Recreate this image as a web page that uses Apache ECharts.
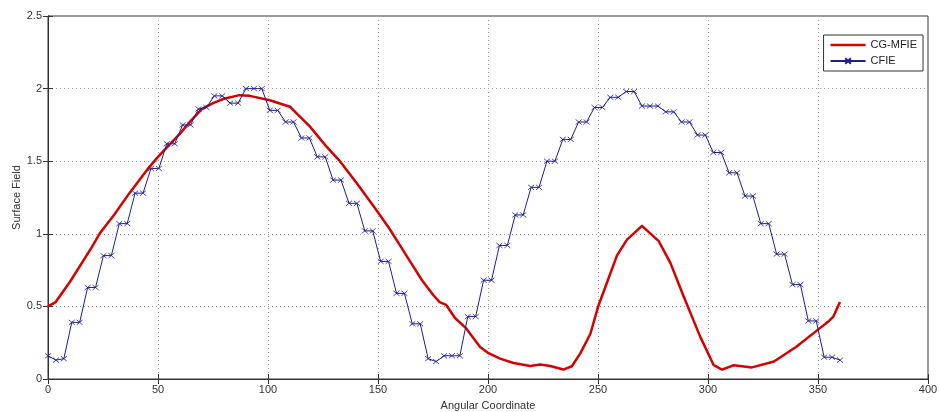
<!DOCTYPE html>
<html><head><meta charset="utf-8">
<script src="https://cdn.jsdelivr.net/npm/echarts@6/dist/echarts.min.js"></script>
<style>html,body{margin:0;padding:0;background:#fff}#c{width:939px;height:412px}</style>
</head><body><div id="c"></div>
<script>
// CG-MFIE (red curve)
const mfieX = [0,3.5,10,20,23.4,30,37,45,50,55,60,65,70,75,80,87,91.7,100.8,110,113,119,126.6,132.7,140.3,149.4,155,160,165,170,175,178,181,185,190,196.4,200,205.5,211.6,219.2,223.7,228.3,234.3,238.1,241.9,246.5,250.3,253,258.6,263.2,270,277.6,282.9,288.9,296.5,302.6,306.4,311.7,320,330,340,350,355,357,360];
const mfieY = [0.50,0.53,0.67,0.91,1.00,1.13,1.28,1.44,1.53,1.61,1.69,1.78,1.86,1.90,1.93,1.955,1.95,1.92,1.875,1.83,1.74,1.60,1.50,1.35,1.16,1.04,0.92,0.80,0.68,0.58,0.53,0.51,0.42,0.35,0.22,0.18,0.14,0.11,0.09,0.10,0.09,0.065,0.088,0.175,0.31,0.51,0.62,0.85,0.96,1.055,0.95,0.80,0.57,0.29,0.095,0.065,0.095,0.08,0.12,0.22,0.34,0.40,0.43,0.53];
// CFIE (blue with x markers), sampled every 3.6 degrees
const cfieStep = 3.6;
const cfieY = [0.16,0.13,0.14,0.39,0.39,0.63,0.63,0.85,0.85,1.07,
  1.07,1.28,1.28,1.45,1.45,1.62,1.62,1.75,1.75,1.86,
  1.87,1.95,1.95,1.90,1.90,2.00,2.00,2.00,1.85,1.85,
  1.77,1.77,1.66,1.66,1.53,1.53,1.37,1.37,1.21,1.21,
  1.02,1.02,0.81,0.81,0.59,0.59,0.38,0.38,0.14,0.12,
  0.16,0.16,0.16,0.43,0.43,0.68,0.68,0.92,0.92,1.13,
  1.13,1.32,1.32,1.50,1.50,1.65,1.65,1.77,1.77,1.87,
  1.87,1.94,1.94,1.98,1.98,1.88,1.88,1.88,1.84,1.84,
  1.77,1.77,1.68,1.68,1.56,1.56,1.42,1.42,1.26,1.26,
  1.07,1.07,0.86,0.86,0.65,0.65,0.40,0.40,0.15,0.15,0.13];
const xTicks = [0,50,100,150,200,250,300,350,400];
const yTicks = [0,0.5,1,1.5,2,2.5];

const mfie = mfieX.map((x,i)=>[x,mfieY[i]]);
const cfie = cfieY.map((y,i)=>[+(i*cfieStep).toFixed(1),y]);
const font = 'Liberation Sans, Arial, sans-serif';
const gridLine = {show:true,lineStyle:{color:'#a0a0a0',type:[1,3],width:1}};
const chart = echarts.init(document.getElementById('c'));
chart.setOption({
  animation:false,
  backgroundColor:'#fff',
  grid:{left:48,right:11,top:16,bottom:33,show:true,borderColor:'#333',borderWidth:1,
    containLabel:false,outerBoundsMode:'none'},
  xAxis:[{type:'value',min:xTicks[0],max:xTicks[xTicks.length-1],interval:50,
    name:'Angular Coordinate',nameLocation:'middle',nameGap:21,nameMoveOverlap:false,
    nameTextStyle:{fontFamily:font,fontSize:11,color:'#333'},
    axisLine:{lineStyle:{color:'#333'}},axisTick:{inside:true,length:5,lineStyle:{color:'#333'}},
    axisLabel:{fontFamily:font,fontSize:11,color:'#333',margin:5},
    splitLine:gridLine},
   {type:'value',position:'top',min:0,max:400,interval:50,axisLine:{show:true,lineStyle:{color:'#333'}},
    axisTick:{inside:true,length:5,lineStyle:{color:'#333'}},axisLabel:{show:false},splitLine:{show:false}}],
  yAxis:[{type:'value',min:yTicks[0],max:yTicks[yTicks.length-1],interval:0.5,
    name:'Surface Field',nameLocation:'middle',nameGap:26,nameMoveOverlap:false,
    nameTextStyle:{fontFamily:font,fontSize:11,color:'#333'},
    axisLine:{show:true,lineStyle:{color:'#333'}},axisTick:{show:true,inside:true,length:5,lineStyle:{color:'#333'}},
    axisLabel:{fontFamily:font,fontSize:11,color:'#333',margin:6},
    splitLine:gridLine},
   {type:'value',position:'right',min:0,max:2.5,interval:0.5,axisLine:{show:true,lineStyle:{color:'#333'}},
    axisTick:{show:true,inside:true,length:5,lineStyle:{color:'#333'}},axisLabel:{show:false},splitLine:{show:false}}],
  legend:{orient:'vertical',right:16,top:35,padding:[4,6,4,6],itemGap:4,itemWidth:35,itemHeight:7,
    borderColor:'#333',borderWidth:1,backgroundColor:'#fff',
    textStyle:{fontFamily:font,fontSize:11,color:'#222',lineHeight:12},
    data:[{name:'CG-MFIE',icon:'path://M0,0H14V1H0Z'},{name:'CFIE'}]},
  series:[
    {name:'CG-MFIE',type:'line',data:mfie,smooth:false,symbol:'none',
     lineStyle:{color:'#d50000',width:2.5,join:'round'},itemStyle:{color:'#d50000'},z:3},
    {name:'CFIE',type:'line',data:cfie,symbol:'path://M0,0L10,10M10,0L0,10',symbolSize:[6,5],
     lineStyle:{color:'#1e1e90',width:1},itemStyle:{color:'#1e1e90',borderColor:'#1e1e90',borderWidth:0.8},z:4}
  ]
});
</script></body></html>
